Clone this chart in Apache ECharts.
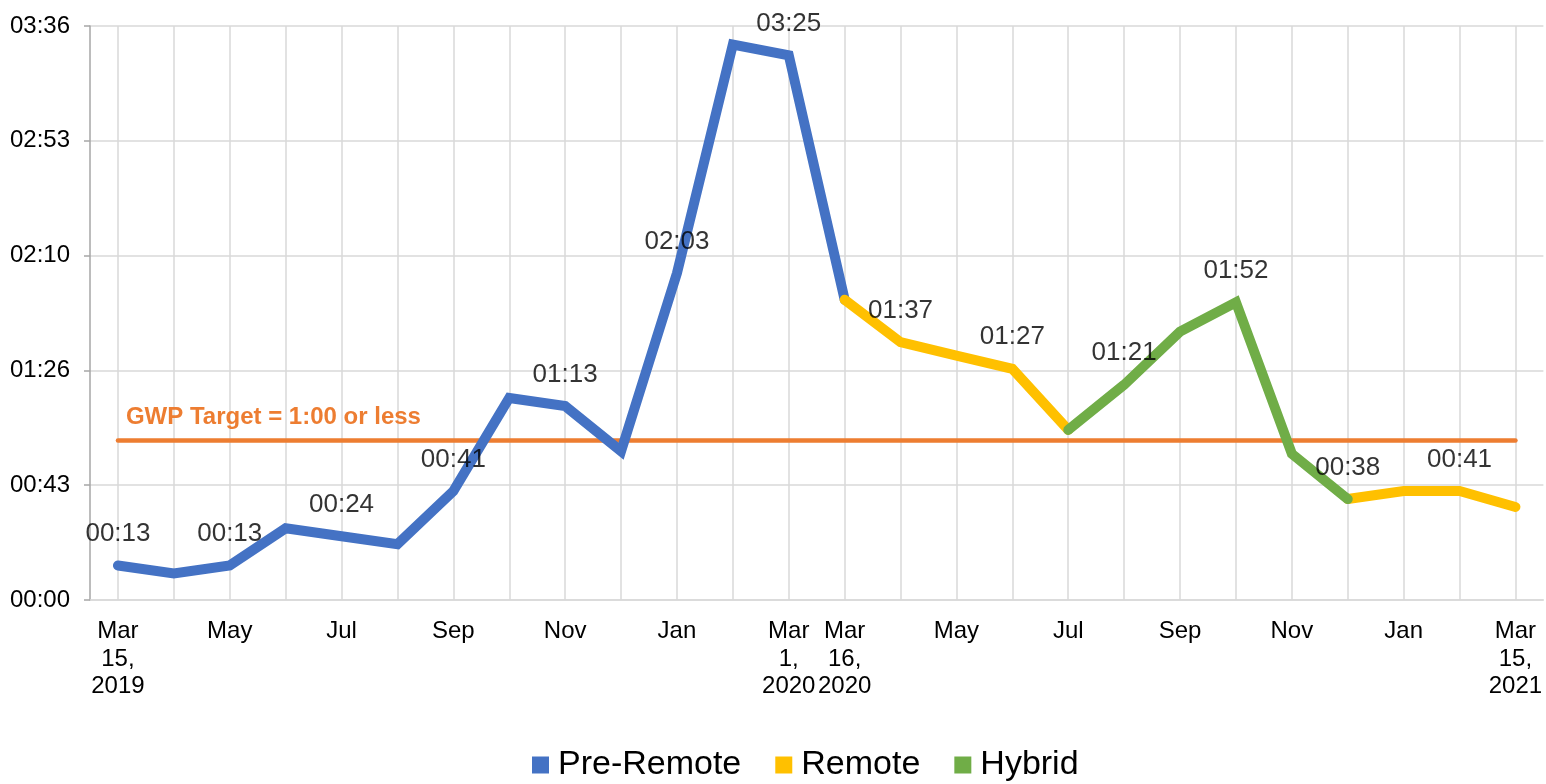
<!DOCTYPE html>
<html><head><meta charset="utf-8">
<script src="https://cdn.jsdelivr.net/npm/echarts@6/dist/echarts.min.js"></script>
<style>html,body{margin:0;padding:0;background:#fff}#c{width:1546px;height:784px}</style>
</head><body><div id="c"></div>
<script>
// categories (x-axis labels; '' = unlabeled point)
const categories = ['Mar\n15,\n2019','','May','','Jul','','Sep','','Nov','','Jan','','Mar\n1,\n2020','Mar\n16,\n2020','','May','','Jul','','Sep','','Nov','','Jan','','Mar\n15,\n2021'];
// values in minutes
const preRemote = [13,10,13,27,24,21,41,76,73,56,123,209,205,113,null,null,null,null,null,null,null,null,null,null,null,null];
const remote    = [null,null,null,null,null,null,null,null,null,null,null,null,null,113,97,92,87,64,null,null,null,null,38,41,41,35];
const hybrid    = [null,null,null,null,null,null,null,null,null,null,null,null,null,null,null,null,null,64,81,101,112,55,38,null,null,null];
const allValues = [13,10,13,27,24,21,41,76,73,56,123,209,205,113,97,92,87,64,81,101,112,55,38,41,41,35];
const labeledIdx = [0,2,4,6,8,10,12,14,16,18,20,22,24];
const targetValue = 60;
const targetLabel = 'GWP Target = 1:00 or less';
const yMax = 216, yInterval = 43.2;

function hhmm(v){ const m=Math.round(v); const h=Math.floor(m/60), mm=m%60; return String(h).padStart(2,'0')+':'+String(mm).padStart(2,'0'); }

const labelData = allValues.map((v,i)=> labeledIdx.includes(i) ? v : null);

const chart = echarts.init(document.getElementById('c'));
const FONT = 'Liberation Sans, Arial, sans-serif';
const lineCommon = { type:'line', xAxisIndex:0, yAxisIndex:0, showSymbol:false, symbol:'none', connectNulls:false, z:3 };
chart.setOption({
  animation:false,
  textStyle:{fontFamily:FONT},
  grid:[
    {left:90, top:26, width:1453.4, height:574, containLabel:false},
    {left:118, top:26, width:1397.4, height:574, containLabel:false}
  ],
  xAxis:[
    {type:'category', gridIndex:0, data:categories, boundaryGap:true,
     axisLine:{show:true, lineStyle:{color:'#d9d9d9', width:1.5}}, axisTick:{show:false},
     axisLabel:{interval:0, color:'#000', fontSize:24, lineHeight:27.5, margin:18, fontFamily:FONT},
     splitLine:{show:false}},
    {type:'value', gridIndex:1, min:0, max:categories.length-1, interval:1,
     axisLine:{show:false}, axisTick:{show:false}, axisLabel:{show:false},
     splitLine:{show:true, lineStyle:{color:'#d9d9d9', width:1.5}}}
  ],
  yAxis:[
    {type:'value', gridIndex:0, min:0, max:yMax, interval:yInterval,
     axisLine:{show:true, lineStyle:{color:'#a6a6a6', width:1.5}},
     axisTick:{show:true, length:6, lineStyle:{color:'#a6a6a6', width:1.5}},
     axisLabel:{formatter:hhmm, color:'#000', fontSize:24, margin:20, fontFamily:FONT},
     splitLine:{show:true, lineStyle:{color:'#d9d9d9', width:1.5}}},
    {type:'value', gridIndex:1, min:0, max:yMax, show:false, splitLine:{show:false}}
  ],
  legend:{
    bottom:-3, left:527, icon:'rect', itemWidth:17, itemHeight:17, itemGap:34,
    textStyle:{fontSize:34, color:'#000', fontFamily:FONT, padding:[0,0,0,4]},
    data:['Pre-Remote','Remote','Hybrid']
  },
  series:[
    Object.assign({}, lineCommon, {name:'Pre-Remote', data:preRemote, color:'#4472C4',
      lineStyle:{width:10, color:'#4472C4', cap:'round', join:'miter'},
      markLine:{silent:true, symbol:['none','none'], z:2,
        lineStyle:{color:'#ED7D31', width:4.5, type:'solid', cap:'round'},
        label:{show:true, position:'insideStartTop', formatter:targetLabel, color:'#ED7D31', fontWeight:'bold', fontSize:24, distance:[8,11], fontFamily:FONT},
        data:[[{coord:[0,targetValue]},{coord:[categories.length-1,targetValue]}]]}}),
    Object.assign({}, lineCommon, {name:'Remote', data:remote, color:'#FFC000',
      lineStyle:{width:10, color:'#FFC000', cap:'round', join:'miter'}}),
    Object.assign({}, lineCommon, {name:'Hybrid', data:hybrid, color:'#70AD47',
      lineStyle:{width:10, color:'#70AD47', cap:'round', join:'miter'}}),
    {name:'labels', type:'scatter', xAxisIndex:0, yAxisIndex:0, data:labelData, symbolSize:1,
     itemStyle:{color:'rgba(0,0,0,0)'}, z:5,
     label:{show:true, position:'top', distance:18, formatter:p=>hhmm(p.value), color:'#000', fontSize:26, fontFamily:FONT}}
  ]
});
</script></body></html>
